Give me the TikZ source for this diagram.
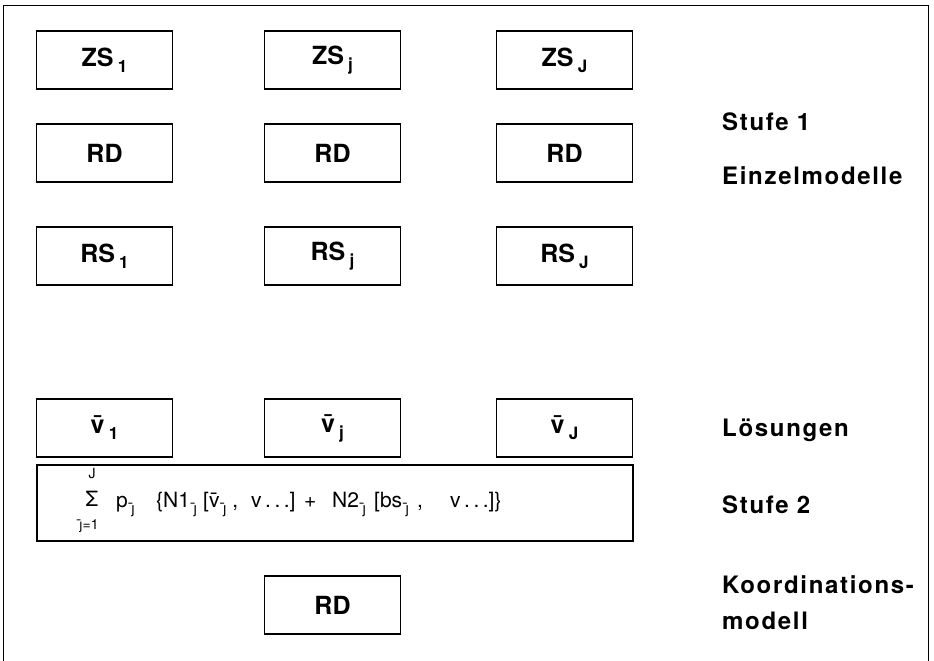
\documentclass[tikz,border=0pt]{standalone}
\usepackage{fontspec}
\setmainfont{TeX Gyre Heros}
\newcommand\lowsub[1]{\,\raisebox{-0.45ex}{\fontsize{17}{19}\selectfont #1}}
\newcommand\fsub[1]{\,\raisebox{-0.55ex}{\fontsize{15}{17}\selectfont #1}}
\newcommand\jb{\={\j}}
\begin{document}
\begin{tikzpicture}[x=1pt,y=-1pt,
  box/.style={draw, line width=1.6pt, minimum width=136pt, minimum height=58pt,
    inner sep=0pt, font=\fontsize{25}{29}\selectfont\bfseries},
  lbl/.style={anchor=west, inner sep=0pt, align=left,
    font=\fontsize{24}{36}\selectfont\bfseries\addfontfeatures{LetterSpace=7}},
  frm/.style={anchor=base west, inner sep=0pt, font=\fontsize{21}{24}\selectfont},
  lim/.style={anchor=base, inner sep=0pt, font=\fontsize{14}{16}\selectfont}]
\useasboundingbox (0,0) rectangle (934,661);
% open frame: top, left and right sides
\draw[line width=0.8pt] (3,661) -- (3,5) -- (928,5) -- (928,661);

% Stufe 1: single models
\node[box] (zs1) at (104.5,60) {ZS\lowsub{1}};
\node[box] (zsj) at (332.5,60) {ZS\lowsub{j}};
\node[box] (zsJ) at (564.5,60) {ZS\lowsub{J}};
\node[box] (rd1) at (104.5,153) {RD};
\node[box] (rdj) at (332.5,153) {RD};
\node[box] (rdJ) at (564.5,153) {RD};
\node[box] (rs1) at (104.5,256) {RS\lowsub{1}};
\node[box] (rsj) at (332.5,256) {RS\lowsub{j}};
\node[box] (rsJ) at (564.5,256) {RS\lowsub{J}};

% solutions
\node[box] (v1) at (104.5,428) {\={v}\lowsub{1}};
\node[box] (vj) at (332.5,428) {\={v}\lowsub{j}};
\node[box] (vJ) at (564.5,428) {\={v}\lowsub{J}};

% Stufe 2: coordination objective
\node[box, minimum width=596pt, minimum height=76pt] (sum) at (335,503) {};
\node[lim, font=\fontsize{21}{24}\selectfont] (sigma) at (92,506) {Σ};
\node[lim] (uplim) at (92,478) {J};
\node[lim] (lolim) at (89,529) {\jb=1};
\node[frm] (t1) at (116,507) {p\fsub{\jb}};
\node[frm] (t2) at (156,507) {\{N1\fsub{\jb}};
\node[frm] (t3) at (203,507) {[\={v}\fsub{\jb}\hspace{6pt},};
\node[frm] (t4) at (251,507) {v\,.\,.\,.]};
\node[frm] (t5) at (304,507) {+};
\node[frm] (t6) at (332,507) {N2\fsub{\jb}};
\node[frm] (t7) at (374,507) {[bs\fsub{\jb}\hspace{8pt},};
\node[frm] (t8) at (450,507) {v\,.\,.\,.]\}};

% coordination model
\node[box] (rdK) at (332.5,605) {RD};

% level labels
\node[lbl] (st1) at (722,122) {Stufe\hspace{8pt}1};
\node[lbl] (ein) at (722,176) {Einzelmodelle};
\node[lbl] (loe) at (722,430) {Lösungen};
\node[lbl] (st2) at (722,505) {Stufe\hspace{8pt}2};
\node[lbl] (koo) at (722,603) {Koordinations-\\modell};
\end{tikzpicture}
\end{document}
